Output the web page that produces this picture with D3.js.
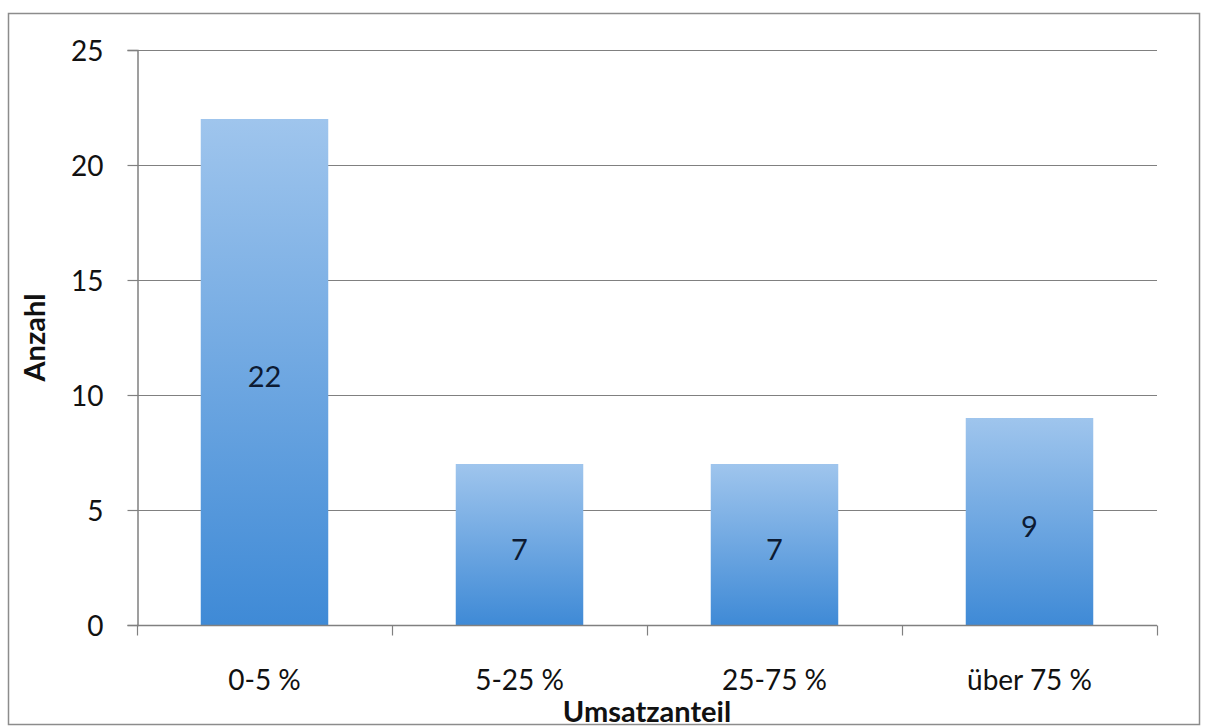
<!DOCTYPE html>
<html>
<head>
<meta charset="utf-8">
<script src="https://d3js.org/d3.v7.min.js"></script>
<style>
  body { margin: 0; background: #fff; }
  svg { display: block; font-family: Lato, "Open Sans", sans-serif; }
</style>
</head>
<body>
<svg id="chart" width="1205" height="727"></svg>
<script>
// data
var categories = ["0-5 %", "5-25 %", "25-75 %", "über 75 %"];
var values = [22, 7, 7, 9];
var yTicks = [0, 5, 10, 15, 20, 25];
var xTitle = "Umsatzanteil";
var yTitle = "Anzahl";

var svg = d3.select("#chart"),
    plotLeft = 137, plotRight = 1157, plotTop = 50, plotBottom = 625;

// outer frame
svg.append("rect")
    .attr("x", 8.5).attr("y", 13.5)
    .attr("width", 1191).attr("height", 711)
    .attr("fill", "#fff").attr("stroke", "#8c8c8c").attr("stroke-width", 1.5);

var x = d3.scaleBand().domain(categories).range([plotLeft, plotRight]).paddingInner(0.5).paddingOuter(0.25);
var y = d3.scaleLinear().domain([0, 25]).range([plotBottom, plotTop]);

// gradient for bars
var grad = svg.append("defs").append("linearGradient")
    .attr("id", "barGrad").attr("x1", 0).attr("y1", 0).attr("x2", 0).attr("y2", 1);
grad.append("stop").attr("offset", "0%").attr("stop-color", "#9fc5ed");
grad.append("stop").attr("offset", "100%").attr("stop-color", "#3f8ad6");

// gridlines
svg.append("g")
  .selectAll("line").data(yTicks.filter(function(d) { return d > 0; }))
  .join("line")
    .attr("x1", plotLeft).attr("x2", plotRight)
    .attr("y1", function(d) { return Math.round(y(d)) + 0.5; })
    .attr("y2", function(d) { return Math.round(y(d)) + 0.5; })
    .attr("stroke", "#808080").attr("stroke-width", 1.2);

// bars
svg.append("g")
  .selectAll("rect").data(values)
  .join("rect")
    .attr("x", function(d, i) { return x(categories[i]); })
    .attr("y", function(d) { return y(d); })
    .attr("width", x.bandwidth())
    .attr("height", function(d) { return plotBottom - y(d); })
    .attr("fill", "url(#barGrad)");

// value labels
svg.append("g")
  .selectAll("text").data(values)
  .join("text")
    .attr("x", function(d, i) { return x(categories[i]) + x.bandwidth() / 2; })
    .attr("y", function(d) { return (y(d) + plotBottom) / 2 + 15; })
    .attr("text-anchor", "middle")
    .attr("font-size", 29)
    .attr("fill", "#0d1b33")
    .text(function(d) { return d; });

// y axis
var yAxis = svg.append("g")
    .attr("transform", "translate(" + (plotLeft + 0.5) + ",0)")
    .call(d3.axisLeft(y).tickValues(yTicks).tickSize(10).tickPadding(24));
yAxis.select(".domain").attr("stroke", "#808080").attr("stroke-width", 1.5);
yAxis.selectAll(".tick line").attr("stroke", "#808080").attr("stroke-width", 1.2);
yAxis.selectAll(".tick text").attr("font-size", 28).attr("fill", "#111")
    .attr("font-family", "Lato, 'Open Sans', sans-serif")
    .attr("dy", "0.36em");

// x axis
var xAxis = svg.append("g")
    .attr("transform", "translate(0," + (plotBottom + 0.5) + ")")
    .call(d3.axisBottom(x).tickSize(0));
xAxis.select(".domain").attr("d", "M" + plotLeft + ",0H" + plotRight)
    .attr("stroke", "#808080").attr("stroke-width", 1.5);
xAxis.selectAll(".tick text").attr("font-size", 28).attr("fill", "#111")
    .attr("font-family", "Lato, 'Open Sans', sans-serif")
    .attr("dy", null).attr("y", 64);

// category separators on x axis
var step = (plotRight - plotLeft) / categories.length;
xAxis.append("g").selectAll("line").data(d3.range(categories.length + 1))
  .join("line")
    .attr("x1", function(i) { return Math.round(plotLeft + i * step) + 0.5; })
    .attr("x2", function(i) { return Math.round(plotLeft + i * step) + 0.5; })
    .attr("y1", 0).attr("y2", 10)
    .attr("stroke", "#808080").attr("stroke-width", 1.2);

// titles
svg.append("text")
    .attr("x", (plotLeft + plotRight) / 2).attr("y", 722)
    .attr("text-anchor", "middle")
    .attr("font-size", 29).attr("font-weight", "bold").attr("fill", "#111")
    .text(xTitle);

svg.append("text")
    .attr("transform", "translate(45," + ((plotTop + plotBottom) / 2) + ") rotate(-90)")
    .attr("text-anchor", "middle")
    .attr("font-size", 29).attr("font-weight", "bold").attr("fill", "#111")
    .text(yTitle);
</script>
</body>
</html>
